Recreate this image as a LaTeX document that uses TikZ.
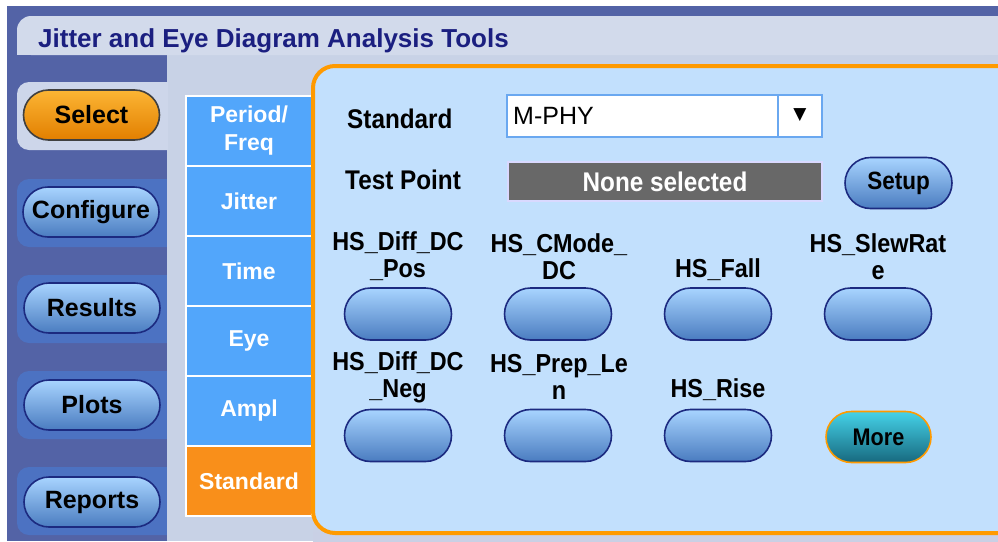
\documentclass[tikz,border=0pt]{standalone}
\usepackage{fontspec}
\setmainfont{Liberation Sans}
\newfontfamily\symfont{DejaVu Sans}
\newfontfamily\cond[FakeStretch=0.9]{Liberation Sans}
\usetikzlibrary{shadings,shapes.misc}
\definecolor{bgdark}{HTML}{5363A6}
\definecolor{titlebar}{HTML}{D2DAEB}
\definecolor{content}{HTML}{C8D2E6}
\definecolor{tablight}{HTML}{CDD6EA}
\definecolor{tabblue}{HTML}{4C72C2}
\definecolor{midtab}{HTML}{52A6FB}
\definecolor{orangetab}{HTML}{F98F1A}
\definecolor{panelfill}{HTML}{C2E0FD}
\definecolor{panelborder}{HTML}{FF9A00}
\definecolor{btntop}{HTML}{A8D4FF}
\definecolor{btnbot}{HTML}{4A7CC0}
\definecolor{btnedge}{HTML}{1C2A80}
\definecolor{moretop}{HTML}{45D2E8}
\definecolor{morebot}{HTML}{17697F}
\definecolor{seltop}{HTML}{FCB534}
\definecolor{selbot}{HTML}{E27F00}
\definecolor{titletext}{HTML}{1B1F80}
\definecolor{graybox}{HTML}{686868}
\definecolor{ddedge}{HTML}{6AA8F0}
\tikzset{
  px/.style={x=1pt,y=-1pt},
  capsule/.style={rounded rectangle, draw=btnedge, line width=1.6pt, top color=btntop, bottom color=btnbot, minimum width=107pt, minimum height=52pt, inner sep=0pt, font=\cond\fontsize{25}{28}\selectfont\bfseries, text=black},
  sidebtn/.style={capsule, minimum width=136pt, minimum height=50pt, font=\fontsize{25}{28}\selectfont\bfseries},
  sidetab/.style={fill=tabblue, rounded corners=12pt},
  midtabbox/.style={rectangle, fill=midtab, draw=white, line width=1.5pt, minimum width=126pt, minimum height=70pt, inner sep=0pt, text=white, align=center, font=\fontsize{23}{28}\selectfont\bfseries},
  lbl/.style={align=center, font=\cond\fontsize{26}{27}\selectfont\bfseries, text=black, inner sep=0pt},
  plain/.style={font=\cond\fontsize{27}{28}\selectfont\bfseries, text=black, inner sep=0pt}
}
\begin{document}
\begin{tikzpicture}[px]
\useasboundingbox (0,0) rectangle (998,541);
\clip (0,0) rectangle (998,541);
\fill[white] (0,0) rectangle (998,541);
% outer frame
\fill[bgdark] (7,6) rectangle (998,541);
% content area
\fill[content] (167,55) rectangle (998,541);
\fill[top color=content, bottom color=content!70!bgdark!60] (313,500) rectangle (998,541);
% title bar
\fill[titlebar, rounded corners=14pt] (17,16) -- (998,16) -- (998,55) -- (17,55) -- cycle;
\fill[titlebar] (40,16) rectangle (998,55);
\fill[titlebar] (17,40) rectangle (60,55);
\node[anchor=base west, inner sep=0pt, text=titletext, font=\fontsize{26}{30}\selectfont\bfseries] (title) at (38,47) {Jitter and Eye Diagram Analysis Tools};
% left tabs
\fill[tablight, rounded corners=12pt] (167,82) -- (17,82) -- (17,150) -- (167,150);
\fill[tablight] (150,82) rectangle (168,150);
\fill[sidetab] (175,179) -- (17,179) -- (17,247) -- (175,247);
\fill[sidetab] (175,275) -- (17,275) -- (17,343) -- (175,343);
\fill[sidetab] (175,371) -- (17,371) -- (17,439) -- (175,439);
\fill[sidetab] (175,467) -- (17,467) -- (17,535) -- (175,535);
\fill[content] (167,170) rectangle (186,541);
\node[sidebtn, draw=black!75, top color=seltop, bottom color=selbot] (sel) at (91.5,115) {Select};
\node[sidebtn] (conf) at (91,212) {Configure};
\node[sidebtn] (res) at (92,308) {Results};
\node[sidebtn] (plots) at (92,405) {Plots};
\node[sidebtn] (rep) at (92,502) {Reports};
% middle tabs
\node[midtabbox] (t1) at (249,131) {Period/\\Freq};
\node[midtabbox] (t2) at (249,201) {Jitter};
\node[midtabbox] (t3) at (249,271) {Time};
\node[midtabbox] (t4) at (249,341) {Eye};
\node[midtabbox] (t5) at (249,411) {Ampl};
\node[midtabbox, fill=orangetab] (t6) at (249,481) {Standard};
% main panel
\draw[draw=panelborder, fill=panelfill, line width=4pt, rounded corners=22pt] (313,66) rectangle (1030,533);
% Standard row
\node[plain, anchor=west] (stdlbl) at (347,119) {Standard};
\node[draw=ddedge, fill=white, line width=1.2pt, minimum width=315pt, minimum height=42pt, inner sep=0pt] (dd) at (664.5,116) {};
\draw[ddedge, line width=1.2pt] (778,95) -- (778,137);
\node[anchor=west, inner sep=0pt, font=\fontsize{25}{28}\selectfont] (mphy) at (513,116) {M-PHY};
\node[inner sep=0pt, font=\symfont\fontsize{17}{20}\selectfont] (arrow) at (800,115) {▼};
% Test point row
\node[plain, anchor=west] (tplbl) at (345,180) {Test Point};
\node[draw=white!85!blue, fill=graybox, line width=1.5pt, minimum width=314pt, minimum height=39pt, inner sep=0pt, text=white, font=\cond\fontsize{27}{28}\selectfont\bfseries] (none) at (665,181.5) {None selected};
\node[capsule, minimum height=51pt] (setup) at (898.5,183) {Setup};
% grid labels
\node[lbl] (l1) at (398,256.5) {HS\_Diff\_DC\\\_Pos};
\node[lbl] (l2) at (559,256.5) {HS\_CMode\_\\DC};
\node[lbl] (l3) at (718,270) {HS\_Fall};
\node[lbl] (l4) at (878,256.5) {HS\_SlewRat\\e};
\node[lbl] (l5) at (398,377) {HS\_Diff\_DC\\\_Neg};
\node[lbl] (l6) at (559,377) {HS\_Prep\_Le\\n};
\node[lbl] (l7) at (718,390) {HS\_Rise};
% grid buttons
\node[capsule] (b1) at (398,314) {};
\node[capsule] (b2) at (558,314) {};
\node[capsule] (b3) at (718,314) {};
\node[capsule] (b4) at (878,314) {};
\node[capsule] (b5) at (398,435.5) {};
\node[capsule] (b6) at (558,435.5) {};
\node[capsule] (b7) at (718,435.5) {};
\node[capsule, draw=panelborder, top color=moretop, bottom color=morebot, minimum width=105pt, minimum height=51pt, font=\cond\fontsize{24}{26}\selectfont\bfseries] (more) at (878.5,437) {More};
\end{tikzpicture}
\end{document}
